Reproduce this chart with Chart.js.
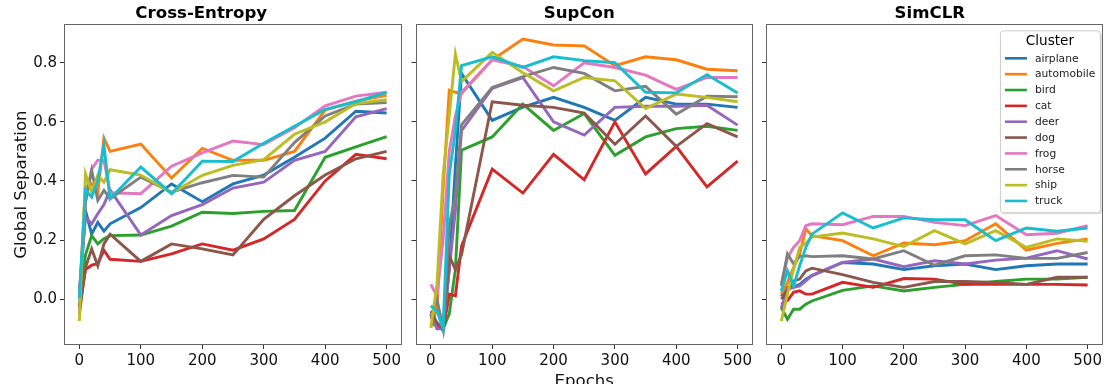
<!DOCTYPE html>
<html>
<head>
<meta charset="utf-8">
<script src="https://cdn.jsdelivr.net/npm/chart.js@4.4.1/dist/chart.umd.min.js"></script>
<style>
html, body { margin: 0; padding: 0; background: #fff; overflow: hidden; }
#wrap { position: relative; width: 1107px; height: 384px; overflow: hidden; }
canvas { position: absolute; top: 0; }
</style>
</head>
<body>
<div id="wrap">
  <canvas id="ce" width="404" height="395" style="left:0px"></canvas>
  <canvas id="sc" width="350" height="395" style="left:405px"></canvas>
  <canvas id="sr" width="349" height="395" style="left:756px"></canvas>
</div>
<script>
'use strict'
// x positions of every run (epochs)
var EPOCHS = [0, 10, 20, 30, 40, 50, 100, 150, 200, 250, 300, 350, 400, 450, 500];
var X_TICKS = [0, 100, 200, 300, 400, 500];
var Y_TICKS = [0.0, 0.2, 0.4, 0.6, 0.8];
var CLASSES = ['airplane', 'automobile', 'bird', 'cat', 'deer', 'dog', 'frog', 'horse', 'ship', 'truck'];
var COLORS = ['#1f77b4', '#ff7f0e', '#2ca02c', '#d62728', '#9467bd', '#8c564b', '#e377c2', '#7f7f7f', '#bcbd22', '#17becf'];
var TITLES = ['Cross-Entropy', 'SupCon', 'SimCLR'];

// Cross-Entropy, one row per class (same order as CLASSES)
var ceValues = [
  [0.00, 0.30, 0.22, 0.26, 0.23, 0.255, 0.31, 0.39, 0.33, 0.39, 0.42, 0.48, 0.545, 0.636, 0.63],
  [0.00, 0.38, 0.39, 0.36, 0.545, 0.50, 0.525, 0.41, 0.51, 0.47, 0.47, 0.50, 0.64, 0.67, 0.69],
  [-0.02, 0.15, 0.215, 0.187, 0.205, 0.215, 0.217, 0.247, 0.294, 0.29, 0.297, 0.30, 0.48, 0.515, 0.55],
  [-0.03, 0.10, 0.115, 0.12, 0.165, 0.135, 0.128, 0.153, 0.187, 0.166, 0.204, 0.27, 0.40, 0.49, 0.475],
  [0.03, 0.277, 0.255, 0.289, 0.32, 0.37, 0.217, 0.283, 0.32, 0.376, 0.396, 0.47, 0.50, 0.617, 0.645],
  [-0.05, 0.107, 0.17, 0.113, 0.187, 0.22, 0.128, 0.187, 0.17, 0.15, 0.27, 0.35, 0.42, 0.475, 0.50],
  [0.00, 0.33, 0.44, 0.47, 0.47, 0.36, 0.357, 0.45, 0.495, 0.535, 0.523, 0.58, 0.654, 0.687, 0.70],
  [0.00, 0.33, 0.436, 0.334, 0.368, 0.34, 0.413, 0.362, 0.394, 0.419, 0.413, 0.53, 0.62, 0.66, 0.665],
  [-0.074, 0.424, 0.362, 0.419, 0.396, 0.438, 0.42, 0.359, 0.419, 0.453, 0.472, 0.558, 0.60, 0.662, 0.675],
  [0.005, 0.37, 0.345, 0.40, 0.52, 0.34, 0.447, 0.357, 0.467, 0.466, 0.528, 0.585, 0.642, 0.668, 0.70]
];

// SupCon
var scValues = [
  [-0.05, -0.09, -0.10, 0.10, 0.45, 0.764, 0.605, 0.65, 0.683, 0.649, 0.605, 0.683, 0.66, 0.66, 0.649],
  [-0.096, -0.03, 0.37, 0.707, 0.70, 0.696, 0.81, 0.88, 0.86, 0.857, 0.79, 0.82, 0.81, 0.778, 0.773],
  [-0.08, -0.09, -0.10, -0.05, 0.10, 0.504, 0.549, 0.66, 0.571, 0.628, 0.487, 0.549, 0.577, 0.585, 0.571],
  [-0.06, -0.08, -0.107, 0.017, 0.011, 0.18, 0.44, 0.359, 0.49, 0.404, 0.60, 0.424, 0.517, 0.38, 0.467],
  [-0.05, -0.10, -0.10, 0.10, 0.30, 0.57, 0.713, 0.75, 0.60, 0.555, 0.649, 0.653, 0.653, 0.656, 0.589],
  [-0.04, -0.08, -0.10, 0.147, 0.10, 0.15, 0.668, 0.656, 0.649, 0.63, 0.524, 0.62, 0.517, 0.594, 0.549],
  [0.05, 0.01, 0.20, 0.50, 0.62, 0.70, 0.81, 0.787, 0.722, 0.80, 0.784, 0.758, 0.71, 0.75, 0.75],
  [-0.06, 0.00, -0.10, 0.25, 0.35, 0.59, 0.716, 0.753, 0.784, 0.764, 0.705, 0.72, 0.626, 0.687, 0.685],
  [-0.096, 0.05, 0.42, 0.62, 0.83, 0.736, 0.835, 0.766, 0.705, 0.75, 0.739, 0.645, 0.694, 0.683, 0.668],
  [-0.023, -0.04, -0.10, 0.42, 0.57, 0.79, 0.82, 0.784, 0.82, 0.807, 0.80, 0.70, 0.698, 0.76, 0.698]
];

// SimCLR
var srValues = [
  [0.01, 0.04, 0.04, 0.05, 0.068, 0.08, 0.124, 0.119, 0.10, 0.113, 0.119, 0.10, 0.113, 0.119, 0.119],
  [0.017, 0.057, 0.107, 0.153, 0.238, 0.215, 0.198, 0.147, 0.19, 0.184, 0.198, 0.255, 0.166, 0.189, 0.204],
  [-0.028, -0.068, -0.034, -0.034, -0.017, -0.006, 0.03, 0.045, 0.028, 0.04, 0.05, 0.06, 0.068, 0.068, 0.074],
  [-0.017, -0.005, 0.023, 0.028, 0.017, 0.017, 0.057, 0.04, 0.07, 0.068, 0.05, 0.05, 0.05, 0.05, 0.048],
  [-0.03, 0.034, 0.04, 0.045, 0.062, 0.08, 0.124, 0.136, 0.11, 0.13, 0.119, 0.132, 0.139, 0.164, 0.136],
  [0.00, 0.028, 0.062, 0.068, 0.096, 0.105, 0.083, 0.057, 0.04, 0.06, 0.06, 0.057, 0.05, 0.074, 0.074],
  [0.05, 0.14, 0.175, 0.198, 0.249, 0.255, 0.252, 0.28, 0.28, 0.26, 0.249, 0.283, 0.218, 0.223, 0.249],
  [0.045, 0.153, 0.12, 0.145, 0.147, 0.144, 0.147, 0.136, 0.164, 0.115, 0.147, 0.15, 0.138, 0.138, 0.158],
  [-0.074, 0.017, 0.10, 0.175, 0.19, 0.21, 0.224, 0.204, 0.178, 0.232, 0.187, 0.232, 0.175, 0.204, 0.196],
  [0.028, 0.096, 0.045, 0.113, 0.175, 0.22, 0.292, 0.241, 0.275, 0.269, 0.269, 0.198, 0.241, 0.23, 0.241]
];

var FONT = 'DejaVu Sans';
var CANVAS_H = 395;
var AXIS_BOTTOM = 345;

// frame around the plot area (top/right spines)
var framePlugin = {
  id: 'frame',
  afterDatasetsDraw: function (chart) {
    var a = chart.chartArea, ctx = chart.ctx;
    ctx.save();
    ctx.strokeStyle = '#666';
    ctx.lineWidth = 1;
    ctx.strokeRect(Math.round(a.left) + 0.5, Math.round(a.top) + 0.5, Math.round(a.right - a.left) - 1, Math.round(a.bottom - a.top) - 1);
    ctx.restore();
  }
};

// matplotlib style legend box with a title
var clusterLegend = {
  id: 'clusterLegend',
  afterDraw: function (chart) {
    if (!chart.options.plugins.clusterLegend.show) return;
    var a = chart.chartArea, ctx = chart.ctx;
    var w = 100, h = 182;
    var x = a.right - 3 - w, y = a.top + 6;
    ctx.save();
    ctx.fillStyle = 'rgba(0,0,0,0.12)';
    roundRect(ctx, x + 2, y + 2, w, h, 3);
    ctx.fill();
    ctx.fillStyle = '#fff';
    ctx.strokeStyle = '#cccccc';
    ctx.lineWidth = 1;
    roundRect(ctx, x + 0.5, y + 0.5, w, h, 3);
    ctx.fill();
    ctx.stroke();
    ctx.fillStyle = '#000';
    ctx.textAlign = 'center';
    ctx.textBaseline = 'middle';
    ctx.font = '13.6px "' + FONT + '"';
    ctx.fillText('Cluster', x + w / 2, y + 11);
    ctx.font = '10.7px "' + FONT + '"';
    ctx.textAlign = 'left';
    chart.data.datasets.forEach(function (ds, i) {
      var ly = y + 28 + i * 15.85;
      ctx.strokeStyle = ds.borderColor;
      ctx.lineWidth = 2.6;
      ctx.beginPath();
      ctx.moveTo(x + 5, ly);
      ctx.lineTo(x + 27, ly);
      ctx.stroke();
      ctx.fillStyle = '#222';
      ctx.fillText(ds.label, x + 35, ly + 0.5);
    });
    ctx.restore();
  }
};

function roundRect(ctx, x, y, w, h, r) {
  ctx.beginPath();
  ctx.moveTo(x + r, y);
  ctx.lineTo(x + w - r, y);
  ctx.quadraticCurveTo(x + w, y, x + w, y + r);
  ctx.lineTo(x + w, y + h - r);
  ctx.quadraticCurveTo(x + w, y + h, x + w - r, y + h);
  ctx.lineTo(x + r, y + h);
  ctx.quadraticCurveTo(x, y + h, x, y + h - r);
  ctx.lineTo(x, y + r);
  ctx.quadraticCurveTo(x, y, x + r, y);
  ctx.closePath();
}

function makePanel(id, title, values, yWidth, first, xTitle, legend) {
  var datasets = [];
  for (var i = 0; i < CLASSES.length; i++) {
    datasets.push({
      label: CLASSES[i],
      data: EPOCHS.map(function (e, j) { return { x: e, y: values[i][j] }; }),
      borderColor: COLORS[i],
      backgroundColor: COLORS[i],
      borderWidth: 2.9,
      pointRadius: 0,
      tension: 0,
      fill: false,
      order: CLASSES.length - i
    });
  }
  var tickGrid = { display: true, drawOnChartArea: false, drawTicks: true, tickLength: 4, color: '#333', tickWidth: 1 };
  return new Chart(document.getElementById(id), {
    type: 'line',
    data: { datasets: datasets },
    options: {
      responsive: false,
      animation: false,
      layout: { padding: { left: 0, right: 1.5, top: 0, bottom: 0 } },
      plugins: {
        legend: { display: false },
        tooltip: { enabled: false },
        title: {
          display: true,
          text: title,
          color: '#000',
          font: { family: FONT, size: 16.6, weight: 'bold' },
          padding: { top: 3.8, bottom: 0.6 }
        },
        clusterLegend: { show: legend }
      },
      scales: {
        x: {
          type: 'linear',
          min: -25,
          max: 525,
          afterBuildTicks: function (s) { s.ticks = X_TICKS.map(function (v) { return { value: v }; }); },
          afterFit: function (s) { s.height = CANVAS_H - AXIS_BOTTOM; },
          ticks: {
            color: '#111',
            font: { family: FONT, size: 15 },
            padding: 3,
            maxRotation: 0,
            autoSkip: false,
            callback: function (v) { return String(v); }
          },
          grid: tickGrid,
          border: { display: false },
          title: {
            display: !!xTitle,
            text: xTitle || '',
            color: '#111',
            font: { family: FONT, size: 16.6 },
            padding: { top: 0, bottom: 3 }
          }
        },
        y: {
          type: 'linear',
          min: -0.155,
          max: 0.93,
          afterBuildTicks: function (s) { s.ticks = Y_TICKS.map(function (v) { return { value: v }; }); },
          afterFit: function (s) { s.width = yWidth; },
          ticks: {
            display: first,
            color: '#111',
            font: { family: FONT, size: 15 },
            padding: 3,
            callback: function (v) { return v.toFixed(1); }
          },
          grid: tickGrid,
          border: { display: false },
          title: {
            display: first,
            text: 'Global Separation',
            color: '#111',
            font: { family: FONT, size: 16.6 },
            padding: { top: 11.5, bottom: 0 }
          }
        }
      }
    },
    plugins: [framePlugin, clusterLegend]
  });
}

makePanel('ce', TITLES[0], ceValues, 64, true, null, false);
makePanel('sc', TITLES[1], scValues, 10.5, false, 'Epochs', false);
makePanel('sr', TITLES[2], srValues, 10, false, null, true);
</script>
</body>
</html>
